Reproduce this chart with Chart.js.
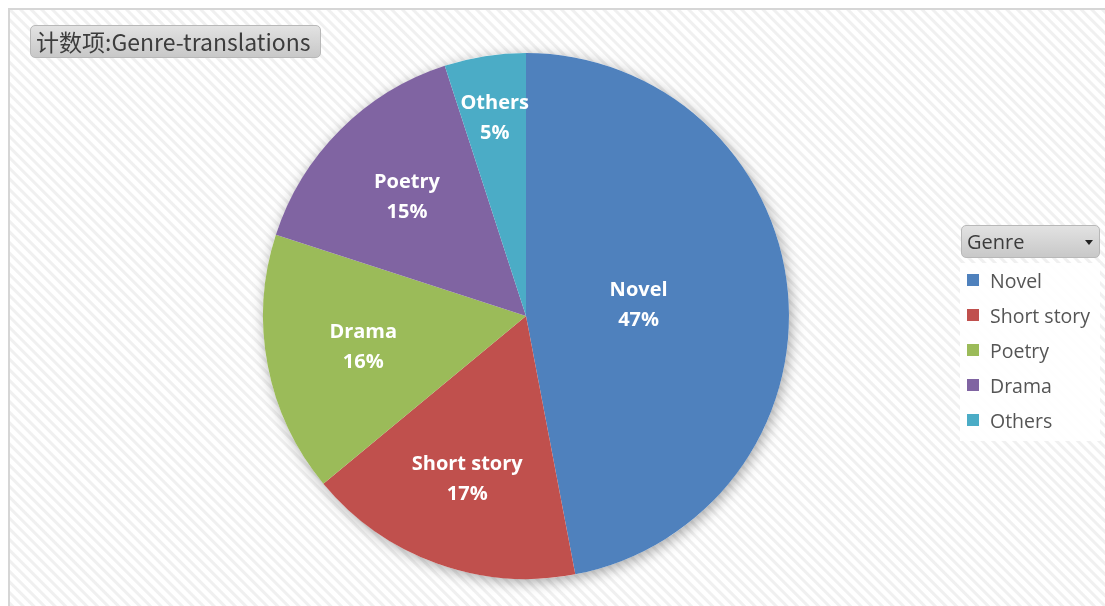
<!DOCTYPE html>
<html>
<head>
<meta charset="utf-8">
<script src="https://cdn.jsdelivr.net/npm/chart.js@4"></script>
<style>
  html, body { margin: 0; padding: 0; background: #fff; }
  body { width: 1105px; height: 606px; position: relative; overflow: hidden;
         font-family: "Open Sans", "Noto Sans CJK SC", sans-serif; }
  #panel { position: absolute; left: 8px; top: 8px; right: -4px; bottom: -4px;
           border-top: 2px solid #d6d6d6; border-left: 2px solid #d6d6d6;
           background: repeating-linear-gradient(45deg, #ffffff 0 2.5px, #f0f0f0 3.5px 5.5px, #ffffff 6.5px 7.5px); }
  #wrap { position: absolute; left: 0; top: 0; width: 1105px; height: 606px; }
  .btn { position: absolute; border: 1px solid #b8b8b8; border-radius: 5px; color: #3c3c3c;
         background: linear-gradient(#e2e2e2, #c8c8c8); box-sizing: border-box; }
  #title { left: 30px; top: 25px; width: 291px; height: 33px; font-size: 23px; line-height: 30px;
           padding-left: 5px; font-family: "Noto Sans CJK SC", sans-serif; white-space: nowrap; }
  #field { left: 961px; top: 225px; width: 139px; height: 33px; font-size: 20px; line-height: 31px;
           padding-left: 5px; }
  #field:after { content: ""; position: absolute; right: 6px; top: 14px;
                 border-left: 4px solid transparent; border-right: 4px solid transparent; border-top: 5px solid #222; }
  #legend { position: absolute; left: 960px; top: 263px; width: 140px; height: 178px;
            background: rgba(255,255,255,0.9); margin: 0; padding: 0; list-style: none; }
  #legend li { height: 35px; font-size: 19.5px; line-height: 35px; color: #555; padding-left: 30px;
               position: relative; white-space: nowrap; }
  #legend li span { position: absolute; left: 7px; top: 11px; width: 12px; height: 12px; }
</style>
</head>
<body>
<div id="panel"></div>
<div id="wrap"><canvas id="pie"></canvas></div>
<div class="btn" id="title">计数项:Genre-translations</div>
<div class="btn" id="field">Genre</div>
<ul id="legend"></ul>
<script>
// legend order / series
const genres = ['Novel', 'Short story', 'Poetry', 'Drama', 'Others'];
const percents = [47, 17, 16, 15, 5];
// names printed on the slices
const sliceNames = ['Novel', 'Short story', 'Drama', 'Poetry', 'Others'];
const colors = ['#4f81bd', '#c0504d', '#9bbb59', '#8064a2', '#4bacc6'];

const legend = document.querySelector('#legend');
genres.forEach((g, i) => {
    const li = document.createElement('li');
    li.innerHTML = '<span style="background:' + colors[i] + '"></span>' + g;
    legend.appendChild(li);
});

// soft drop shadow under the pie
const pieShadow = {
    id: 'pieShadow',
    beforeDatasetsDraw(chart) {
        const arc = chart.getDatasetMeta(0).data[0];
        const ctx = chart.ctx;
        ctx.save();
        ctx.shadowColor = 'rgba(0,0,0,0.35)';
        ctx.shadowBlur = 14;
        ctx.shadowOffsetX = 2;
        ctx.shadowOffsetY = 3;
        ctx.fillStyle = '#ffffff';
        ctx.beginPath();
        ctx.arc(arc.x, arc.y, arc.outerRadius, 0, Math.PI * 2);
        ctx.fill();
        ctx.restore();
    }
};

// white bold name + percent inside each slice
const sliceLabels = {
    id: 'sliceLabels',
    afterDatasetsDraw(chart, args, opts) {
        const ctx = chart.ctx;
        const ds = chart.data.datasets[0];
        chart.getDatasetMeta(0).data.forEach((arc, i) => {
            const mid = (arc.startAngle + arc.endAngle) / 2;
            const r = arc.outerRadius * opts.dist[i];
            const x = arc.x + Math.cos(mid) * r;
            const y = arc.y + Math.sin(mid) * r;
            ctx.save();
            ctx.fillStyle = '#ffffff';
            ctx.font = 'bold 20px "Open Sans", sans-serif';
            ctx.textAlign = 'center';
            ctx.textBaseline = 'middle';
            ctx.fillText(sliceNames[i], x, y - 15);
            ctx.fillText(ds.data[i] + '%', x, y + 15);
            ctx.restore();
        });
    }
};

new Chart(document.querySelector('#pie').getContext('2d'), {
    type: 'pie',
    data: {
        labels: genres,
        datasets: [{
            data: percents,
            backgroundColor: colors,
            borderWidth: 0
        }]
    },
    options: {
        responsive: true,
        maintainAspectRatio: false,
        animation: false,
        layout: { padding: { left: 263, right: 316, top: 53, bottom: 27 } },
        plugins: {
            legend: { display: false },
            tooltip: { enabled: false },
            sliceLabels: { dist: [0.43, 0.66, 0.63, 0.64, 0.76] }
        }
    },
    plugins: [pieShadow, sliceLabels]
});
</script>
</body>
</html>
